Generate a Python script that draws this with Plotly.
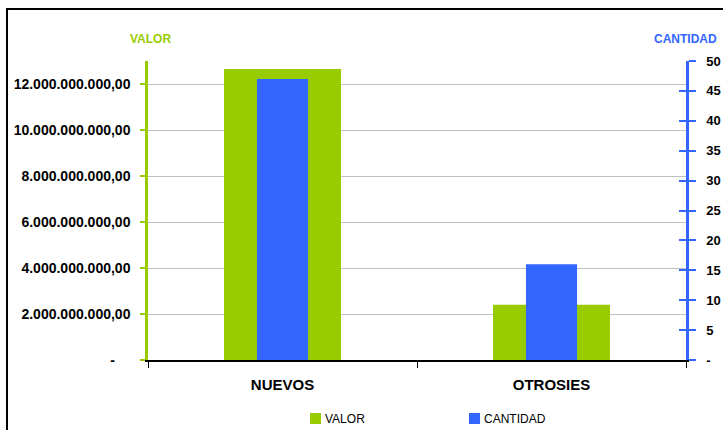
import plotly.graph_objects as go

categories = ["NUEVOS", "OTROSIES"]
valor = [12650000000, 2400000000]
cantidad = [47, 16]

left_tickvals = [0, 2e9, 4e9, 6e9, 8e9, 10e9, 12e9]
left_ticktext = ["-\u00a0\u00a0\u00a0\u00a0", "2.000.000.000,00", "4.000.000.000,00", "6.000.000.000,00",
                 "8.000.000.000,00", "10.000.000.000,00", "12.000.000.000,00"]
right_tickvals = [0, 5, 10, 15, 20, 25, 30, 35, 40, 45, 50]
right_ticktext = ["-", "5", "10", "15", "20", "25", "30", "35", "40", "45", "50"]
series_names = ["VALOR", "CANTIDAD"]

GREEN = "#99CC00"
BLUE = "#3366FF"
FONT = "Liberation Sans"

W, H = 723, 430
L, R, T, B = 148, 37, 61, 70
pw, ph = W - L - R, H - T - B

def px_x(x):
    return (x - L) / pw

def px_y(y):
    return (H - B - y) / ph

fig = go.Figure()
fig.add_trace(go.Bar(x=categories, y=valor, name=series_names[0], marker=dict(color=GREEN, line=dict(width=0)),
                     width=0.435, yaxis="y"))
fig.add_trace(go.Bar(x=categories, y=cantidad, name=series_names[1], marker=dict(color=BLUE, line=dict(width=0)),
                     width=0.19, yaxis="y2"))
fig.add_trace(go.Scatter(x=categories, y=[None, None], yaxis="y3", showlegend=False, hoverinfo="skip"))

# manual legend (square + label) at bottom
legend_items = [(series_names[0], GREEN, 310), (series_names[1], BLUE, 469)]
shapes = [
    dict(type="rect", xref="paper", yref="paper", x0=px_x(7), x1=px_x(740), y0=px_y(450), y1=px_y(9),
         line=dict(color="black", width=2), fillcolor="rgba(0,0,0,0)", layer="below"),
]
annotations = [
    dict(text="<b>VALOR</b>", x=px_x(150), y=px_y(39), xref="paper", yref="paper",
         showarrow=False, font=dict(family=FONT, size=12, color=GREEN), xanchor="center", yanchor="middle"),
    dict(text="<b>CANTIDAD</b>", x=px_x(685), y=px_y(39), xref="paper", yref="paper",
         showarrow=False, font=dict(family=FONT, size=12, color=BLUE), xanchor="center", yanchor="middle"),
]
for name, col, x0 in legend_items:
    shapes.append(dict(type="rect", xref="paper", yref="paper", x0=px_x(x0), x1=px_x(x0 + 11),
                       y0=px_y(424), y1=px_y(413), line=dict(width=0), fillcolor=col))
    annotations.append(dict(text=name, x=px_x(x0 + 13), y=px_y(419), xref="paper", yref="paper",
                            showarrow=False, xanchor="left", yanchor="middle",
                            font=dict(family=FONT, size=12, color="black")))

fig.update_layout(
    width=W, height=H,
    margin=dict(l=L, r=R, t=T, b=B, autoexpand=False),
    paper_bgcolor="white", plot_bgcolor="white",
    barmode="overlay",
    showlegend=False,
    font=dict(family=FONT, color="black"),
    xaxis=dict(
        type="category", tickson="boundaries", ticks="outside", ticklen=6, tickcolor="black",
        showline=True, linecolor="black", linewidth=1.5, showgrid=False, automargin=False,
        tickfont=dict(family=FONT, size=15, color="black", weight="bold"),
        ticklabelstandoff=10,
    ),
    yaxis=dict(
        range=[0, 13e9], tickvals=left_tickvals, ticktext=left_ticktext, automargin=False,
        showline=True, linecolor=GREEN, linewidth=2.5,
        ticks="outside", ticklen=5, tickcolor=GREEN, tickwidth=2,
        showgrid=True, gridcolor="#c0c0c0", gridwidth=1, zeroline=False,
        tickfont=dict(family=FONT, size=14, color="black", weight="bold"),
        ticklabelstandoff=7,
    ),
    yaxis2=dict(
        range=[0, 50], tickvals=right_tickvals, ticktext=right_ticktext, automargin=False,
        overlaying="y", side="right",
        showline=True, linecolor=BLUE, linewidth=2.5,
        ticks="outside", ticklen=7, tickcolor=BLUE, tickwidth=2,
        showgrid=False, zeroline=False,
        tickfont=dict(family=FONT, size=13, color="black", weight="bold"),
        ticklabelstandoff=8,
    ),
    yaxis3=dict(
        range=[0, 50], tickvals=right_tickvals, showticklabels=False, automargin=False,
        overlaying="y", side="right", anchor="x",
        showline=False, ticks="inside", ticklen=7, tickcolor=BLUE, tickwidth=2,
        showgrid=False, zeroline=False,
    ),
    annotations=annotations,
    shapes=shapes,
)

fig.write_html("out.html", config={"displayModeBar": False},
               post_script="document.body.style.margin='0';document.body.style.overflow='hidden';")
